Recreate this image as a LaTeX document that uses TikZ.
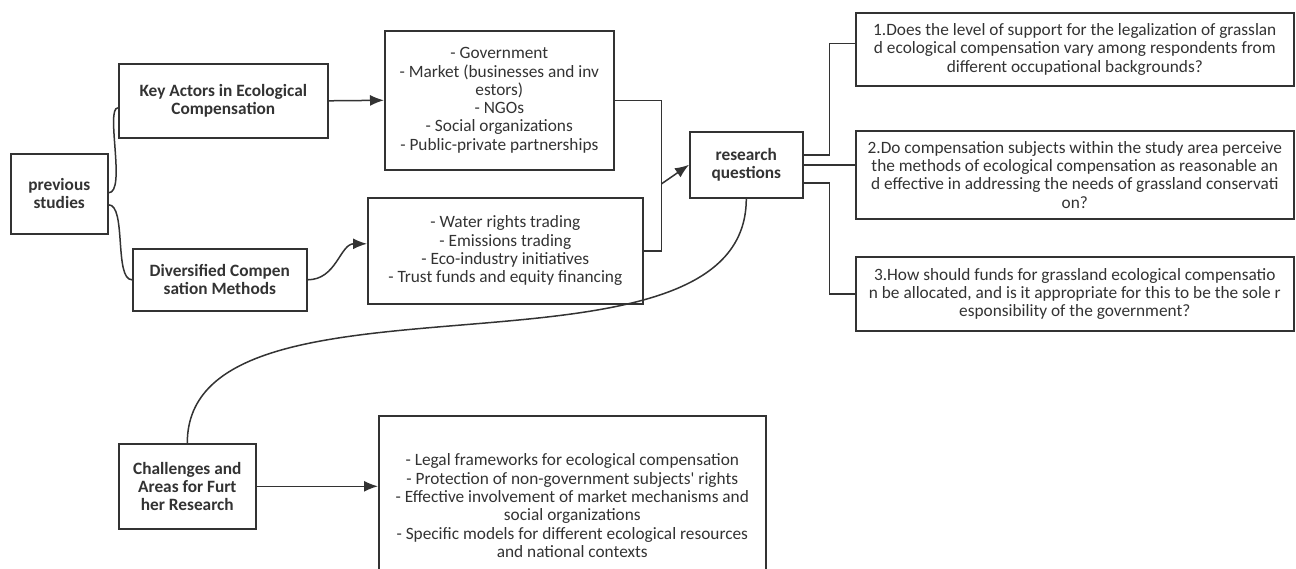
\documentclass[tikz,border=0pt]{standalone}
\usepackage{fontspec}
\setmainfont{Carlito}
\usetikzlibrary{arrows.meta,calc}
\definecolor{ink}{HTML}{333333}
\tikzset{
  box/.style={draw=ink, line width=1.6pt, text=ink, align=center, inner sep=2pt, anchor=north west,
    font=\fontsize{17.3}{18.3}\selectfont},
  bbox/.style={box, font=\fontsize{17.3}{18.3}\selectfont\bfseries},
  link/.style={draw=ink, line width=1.5pt},
  arr/.style={link, -{Latex[length=14pt,width=11pt]}},
}
\begin{document}
\begin{tikzpicture}[x=1pt,y=-1pt]
\useasboundingbox (0,0) rectangle (1296,569);
\clip (0,0) rectangle (1296,569);
\fill[white] (0,0) rectangle (1296,569);
% nodes
\node[bbox, minimum width=97pt, minimum height=80pt] (prev) at (10,153) {previous\\studies};
\node[bbox, minimum width=209pt, minimum height=74pt] (key) at (118,63) {Key Actors in Ecological\\Compensation};
\node[bbox, minimum width=174pt, minimum height=62pt] (div) at (132,248) {Diversified Compen\\sation Methods};
\node[box, minimum width=229pt, minimum height=139pt] (actors) at (384,30) {- Government\\- Market (businesses and inv\\estors)\\- NGOs\\- Social organizations\\- Public-private partnerships};
\node[box, minimum width=275pt, minimum height=106pt] (methods) at (367,197) {- Water rights trading\\- Emissions trading\\- Eco-industry initiatives\\- Trust funds and equity financing};
\node[bbox, minimum width=113pt, minimum height=66pt] (rq) at (689,131) {research\\questions};
\node[box, minimum width=438pt, minimum height=73pt] (q1) at (855,12) {1.Does the level of support for the legalization of grasslan\\d ecological compensation vary among respondents from\\different occupational backgrounds?};
\node[box, minimum width=438pt, minimum height=88pt] (q2) at (855,130) {2.Do compensation subjects within the study area perceive\\the methods of ecological compensation as reasonable an\\d effective in addressing the needs of grassland conservati\\on?};
\node[box, minimum width=438pt, minimum height=74pt] (q3) at (855,256) {3.How should funds for grassland ecological compensatio\\n be allocated, and is it appropriate for this to be the sole r\\esponsibility of the government?};
\node[bbox, minimum width=137pt, minimum height=85pt] (chal) at (118,443) {Challenges and\\Areas for Furt\\her Research};
\node[box, minimum width=387pt, minimum height=180pt] (further) at (378,415) {- Legal frameworks for ecological compensation\\- Protection of non-government subjects\textquotesingle{} rights\\- Effective involvement of market mechanisms and\\social organizations\\- Specific models for different ecological resources\\and national contexts};
% connectors
\draw[link] ($(prev.east)+(0,-1)$) .. controls +(18,0) and ($(key.west)+(-13,7)$) .. ($(key.west)+(0,7)$);
\draw[link] ($(prev.east)+(0,11)$) .. controls +(18,0) and ($(div.west)+(-18,0)$) .. (div.west);
\draw[arr] (key.east) -- (actors.west);
\draw[arr] (div.east) .. controls +(29,0) and ($(methods.west)+(-27,-7)$) .. ($(methods.west)+(0,-7)$);
\coordinate (j) at ($(methods.east)+(18,-67)$);
\draw[link] (actors.east) -| (j) |- (methods.east);
\draw[arr] (j) -- (rq.west);
\draw[link] ($(rq.east)+(0,-10)$) -- ++(26,0) |- ($(q1.west)+(0,-6)$);
\draw[link] (rq.east) -- (rq.east -| q2.west);
\draw[link] ($(rq.east)+(0,18)$) -- ++(26,0) |- (q3.west);
\draw[link] (rq.south) .. controls +(0,203) and ($(chal.north)+(0,-193)$) .. (chal.north);
\draw[arr] (chal.east) -- (chal.east -| further.west);
\end{tikzpicture}
\end{document}
